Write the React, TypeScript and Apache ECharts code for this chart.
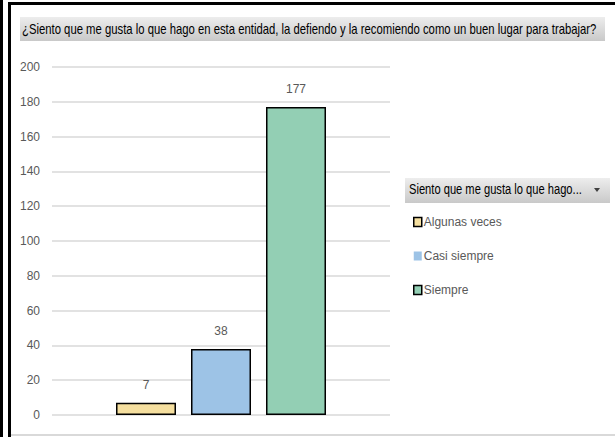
import React, { useEffect, useRef } from "react";
import * as echarts from "echarts";

const titleText = "¿Siento que me gusta lo que hago en esta entidad, la defiendo y la recomiendo como un buen lugar para trabajar?";
const legendHeader = "Siento que me gusta lo que hago...";
const category = ["Total"];
const seriesNames = ["Algunas veces", "Casi siempre", "Siempre"];
const seriesValues = [7, 38, 177];
const seriesColors = ["#F5DF9F", "#9DC3E6", "#93CFB4"];
const yTicks = { min: 0, max: 200, interval: 20 };

const FONT = "'Liberation Sans', Arial, sans-serif";

function measure(text: string, size: number): number {
  const c = document.createElement("canvas").getContext("2d");
  if (!c) return text.length * size * 0.5;
  c.font = `${size}px 'Liberation Sans', Arial, sans-serif`;
  return c.measureText(text).width;
}

export default function App() {
  const ref = useRef<HTMLDivElement>(null);
  useEffect(() => {
    if (!ref.current) return;
    const chart = echarts.init(ref.current, undefined, { renderer: "svg" });
    const titleScale = 575 / measure(titleText, 14);
    const headerScale = 173 / measure(legendHeader, 14);
    const grad = () =>
      new echarts.graphic.LinearGradient(0, 0, 0, 1, [
        { offset: 0, color: "#EDEDED" },
        { offset: 1, color: "#C9C9C9" },
      ]);
    chart.setOption({
      animation: false,
      backgroundColor: "#ffffff",
      textStyle: { fontFamily: FONT },
      grid: { left: 52, right: 225, top: 67, bottom: 22, containLabel: false },
      xAxis: {
        type: "category",
        data: category,
        axisLine: { show: false },
        axisTick: { show: false },
        axisLabel: { show: false },
      },
      yAxis: {
        type: "value",
        min: yTicks.min,
        max: yTicks.max,
        interval: yTicks.interval,
        axisLine: { show: false },
        axisTick: { show: false },
        axisLabel: { color: "#595959", fontSize: 12, margin: 12, fontFamily: FONT },
        splitLine: { lineStyle: { color: "#D9D9D9", width: 1.5 } },
      },
      legend: {
        orient: "vertical",
        left: 408,
        top: 211,
        itemGap: 22,
        itemWidth: 8,
        itemHeight: 9,
        icon: "rect",
        textStyle: { color: "#595959", fontSize: 12, fontFamily: FONT, padding: [0, 0, 0, -3] },
        data: seriesNames.map((n, i) => ({
          name: n,
          itemStyle: i === 1 ? { borderWidth: 0 } : { borderColor: "#000", borderWidth: 1.5 },
        })),
      },
      series: seriesNames.map((n, i) => ({
        name: n,
        type: "bar",
        data: [seriesValues[i]],
        barWidth: 60,
        barGap: "25%",
        itemStyle: { color: seriesColors[i], borderColor: "#000", borderWidth: 1.5 },
        label: {
          show: true,
          position: "top",
          distance: 12,
          color: "#595959",
          fontSize: 12,
          fontFamily: FONT,
        },
      })),
      graphic: [
        { type: "rect", shape: { x: 0, y: 0, width: 3, height: 437 }, style: { fill: "#000" }, silent: true },
        { type: "rect", shape: { x: 8, y: 3, width: 3, height: 434 }, style: { fill: "#000" }, silent: true },
        { type: "rect", shape: { x: 8, y: 2, width: 607, height: 3 }, style: { fill: "#000" }, silent: true },
        { type: "rect", shape: { x: 11, y: 434, width: 604, height: 2 }, style: { fill: "#D9D9D9" }, silent: true },
        {
          type: "rect",
          shape: { x: 20, y: 17, width: 585, height: 24 },
          style: { fill: grad() },
          silent: true,
        },
        {
          type: "text",
          x: 22,
          y: 29,
          scaleX: titleScale,
          style: { text: titleText, fontSize: 14, fontFamily: FONT, fill: "#000", verticalAlign: "middle" },
          silent: true,
        },
        {
          type: "rect",
          shape: { x: 405, y: 178, width: 205, height: 25 },
          style: { fill: grad() },
          silent: true,
        },
        {
          type: "text",
          x: 409,
          y: 190,
          scaleX: headerScale,
          style: { text: legendHeader, fontSize: 14, fontFamily: FONT, fill: "#000", verticalAlign: "middle" },
          silent: true,
        },
        {
          type: "polygon",
          shape: { points: [[594, 188], [600, 188], [597, 192]] },
          style: { fill: "#404040" },
          silent: true,
        },
      ],
    });
    return () => chart.dispose();
  }, []);
  return <div ref={ref} style={{ position: "fixed", left: 0, top: 0, width: 615, height: 437 }} />;
}
